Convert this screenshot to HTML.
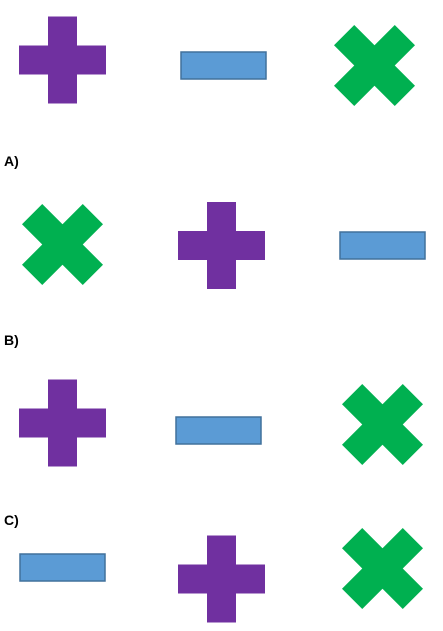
<!DOCTYPE html>
<html><head><meta charset="utf-8"><style>
html,body{margin:0;padding:0;background:#fff;width:443px;height:631px;overflow:hidden}
svg{display:block}
text{font-family:"Liberation Sans",sans-serif;font-weight:bold;font-size:14px;fill:#000}
</style></head><body>
<svg id="s" width="443" height="631" xmlns="http://www.w3.org/2000/svg">
<text x="4" y="166">A)</text>
<text x="4" y="345">B)</text>
<text x="4" y="525">C)</text>
</svg>
<script>
const shapeTypes = ['plus','minus','cross','cross','plus','minus','plus','minus','cross','minus','plus','cross'];
const centersX = [62.5,223.5,374.5,62.5,221.5,382.5,62.5,218.5,382.5,62.5,221.5,382.5];
const centersY = [60,65.5,65.5,244.5,245.5,245.5,423,430.5,424.5,567.5,579,568.5];
const NS='http://www.w3.org/2000/svg';
const svg=document.getElementById('s');
function mk(tag,attrs){const e=document.createElementNS(NS,tag);for(const k in attrs)e.setAttribute(k,attrs[k]);svg.appendChild(e);return e;}
shapeTypes.forEach((t,i)=>{
  const cx=centersX[i], cy=centersY[i];
  let el;
  if(t==='plus'){
    const h=43.5,a=14.5;
    const p=[[-a,-h],[a,-h],[a,-a],[h,-a],[h,a],[a,a],[a,h],[-a,h],[-a,a],[-h,a],[-h,-a],[-a,-a]];
    el=mk('polygon',{points:p.map(q=>(cx+q[0])+','+(cy+q[1])).join(' '),fill:'#7030a0'});
    
  } else if(t==='minus'){
    el=mk('rect',{x:cx-42.5,y:cy-13.5,width:85,height:27,fill:'#5b9bd5',stroke:'#41719c','stroke-width':1.5});
    
  } else {
    const h=40.5,d=20.25;
    const p=[[-h,-h+d],[-h+d,-h],[0,-h+d],[h-d,-h],[h,-h+d],[d,0],[h,h-d],[h-d,h],[0,h-d],[-h+d,h],[-h,h-d],[-d,0]];
    el=mk('polygon',{points:p.map(q=>(cx+q[0])+','+(cy+q[1])).join(' '),fill:'#00b050'});
    
  }
  
});
</script>
</body></html>
